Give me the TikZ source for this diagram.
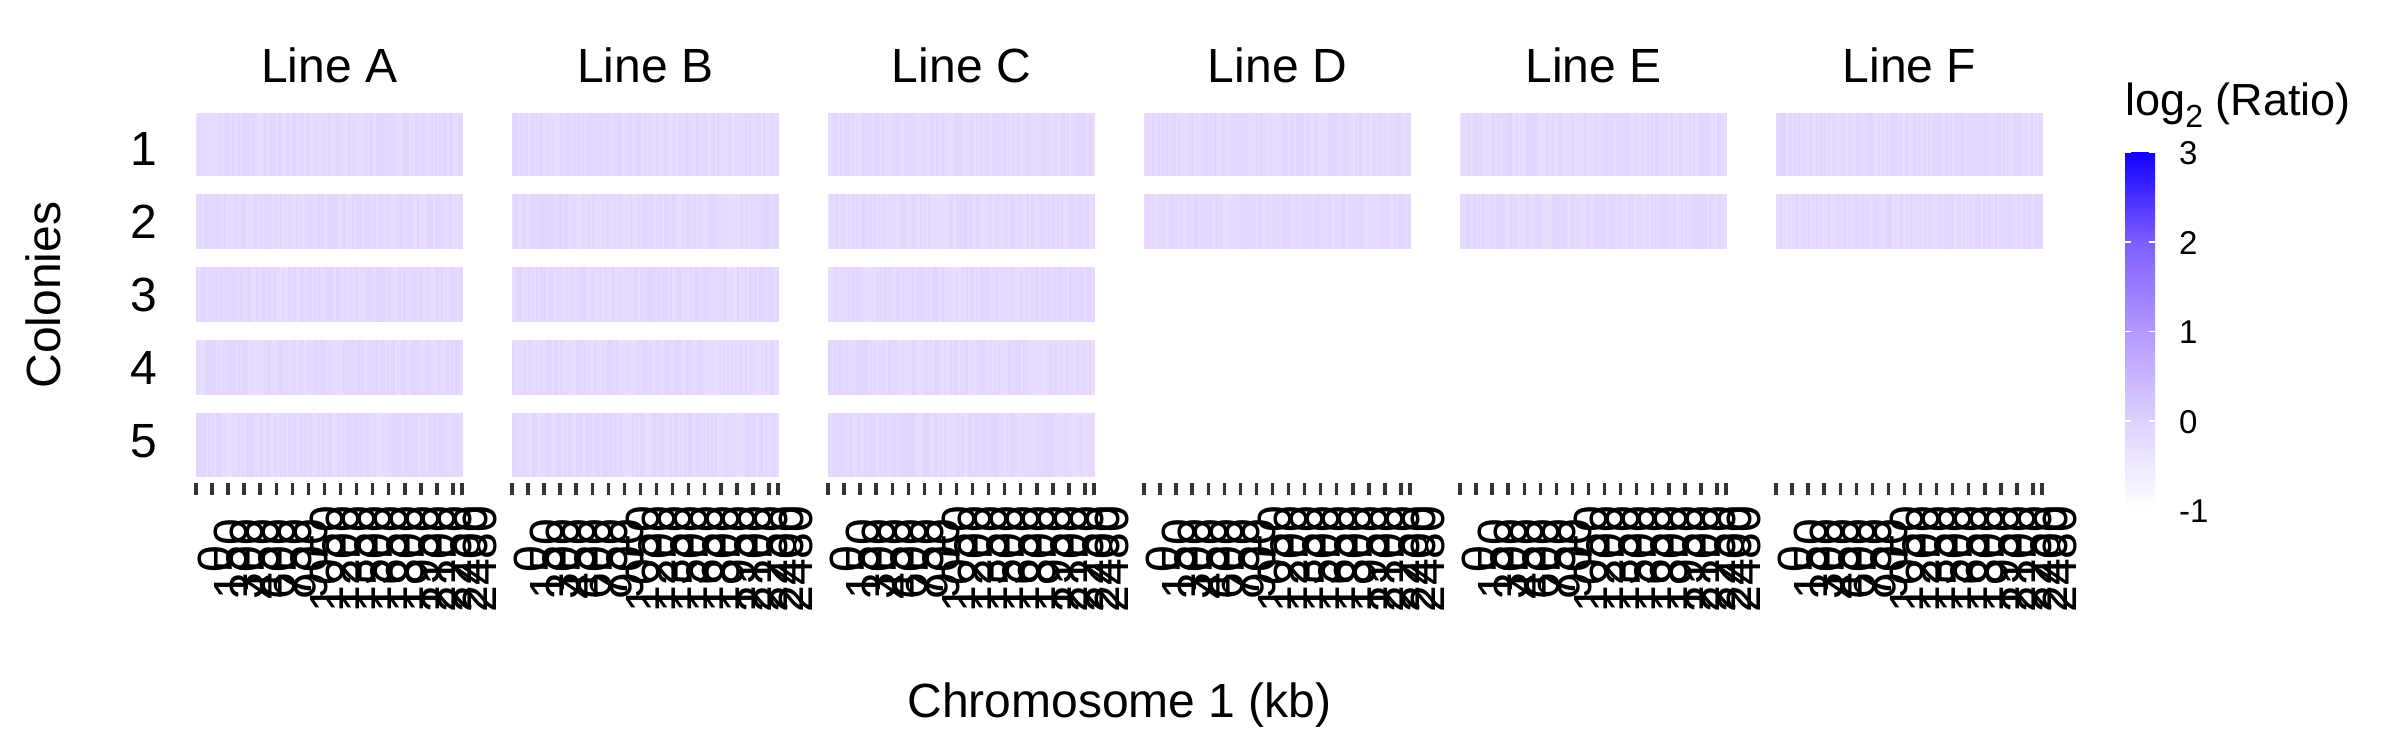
\documentclass[tikz,border=0pt]{standalone}
\usepackage{fontspec}
\setmainfont{Liberation Sans}
\definecolor{tileA}{RGB}{225,212,255}
\definecolor{tileB}{RGB}{233,222,255}
\definecolor{tilebase}{RGB}{229,217,255}
\definecolor{tickgray}{RGB}{51,51,51}
\definecolor{cm1}{RGB}{255,255,255}
\definecolor{c0}{RGB}{222,210,255}
\definecolor{c1}{RGB}{180,152,255}
\definecolor{c2}{RGB}{126,94,255}
\definecolor{c3}{RGB}{16,0,255}
\newcommand\mytile[3]{%
  \fill[tilebase] (#1,#2) rectangle ({#1+266.7},#3);
  \foreach \s in {0,...,132}{%
    \pgfmathtruncatemacro\m{random(0,100)}%
    \fill[tileA!\m!tileB] ({#1+\s*2.0053},#2) rectangle ({#1+\s*2.0053+2.0053},#3);
  }%
}
\begin{document}
\begin{tikzpicture}[x=1pt,y=-1pt,
  bigtext/.style={font=\fontsize{48}{58}\selectfont, inner sep=0pt},
  legtitlestyle/.style={font=\fontsize{45}{54}\selectfont, inner sep=0pt},
  legtext/.style={font=\fontsize{33}{40}\selectfont, inner sep=0pt},
  tickmark/.style={draw=tickgray, line width=3.5pt},
  barmark/.style={draw=white, line width=1.5pt}]
\pgfmathsetseed{4242}
\fill[white] (0,0) rectangle (2400,750);
\useasboundingbox (0,0) rectangle (2400,750);

% tiles
\foreach \i in {0,1,2}{
  \pgfmathsetmacro\xl{196+316*\i}
  \foreach \t/\b in {113/176,194/249,267/322,340/395,413/477}{
    \mytile{\xl}{\t}{\b}
  }
}
\foreach \i in {3,4,5}{
  \pgfmathsetmacro\xl{196+316*\i}
  \foreach \t/\b in {113/176,194/249}{
    \mytile{\xl}{\t}{\b}
  }
}

% strips, ticks and tick labels
\foreach \P [count=\i from 0] in {A,B,C,D,E,F}{
  \pgfmathsetmacro\xl{196+316*\i}
  \node[bigtext, anchor=base] (strip\P) at ({\xl+133.35},82.7) {Line \P};
  \foreach \k/\lab [count=\j] in {0/0,1/150,2/300,3/450,4/600,5/750,6/900,7/1050,8/1200,9/1350,10/1500,11/1650,12/1800,13/1950,14/2100,15/2250,16/2400,16.56/2480}{
    \draw[tickmark] ({\xl+16.06*\k},483) -- ({\xl+16.06*\k},495);
    \node[bigtext, rotate=90, anchor=base] (lab\P\j) at ({\xl+16.06*\k+35},559) {\lab};
  }
}

% row labels
\foreach \r [count=\c from 0] in {1,...,5}{
  \node[bigtext, anchor=base east] (row\r) at (157,{148.5+73*\c+17.2}) {\r};
}

% axis titles
\node[bigtext, rotate=90, anchor=base] (ylab) at (60,295) {Colonies};
\node[bigtext, anchor=base] (xlab) at (1119.5,717) {Chromosome 1 (kb)};

% legend
\node[legtitlestyle, anchor=base west] (legtitle) at (2125,115) {log\raisebox{-0.28em}{\fontsize{32}{34}\selectfont 2} (Ratio)};
\shade[top color=c3, bottom color=c2] (2125,152.2) rectangle (2155,242.5);
\shade[top color=c2, bottom color=c1] (2125,242.0) rectangle (2155,332.0);
\shade[top color=c1, bottom color=c0] (2125,331.5) rectangle (2155,421.5);
\shade[top color=c0, bottom color=cm1] (2125,421.0) rectangle (2155,510.7);
\foreach \v [count=\c from 0] in {3,2,1,0,-1}{
  \pgfmathsetmacro\yy{152.7+89.5*\c}
  \draw[barmark] (2125,\yy) -- (2131,\yy);
  \draw[barmark] (2149,\yy) -- (2155,\yy);
  \node[legtext, anchor=base west] (leg\c) at (2179,{\yy+12}) {\v};
}
\end{tikzpicture}
\end{document}
